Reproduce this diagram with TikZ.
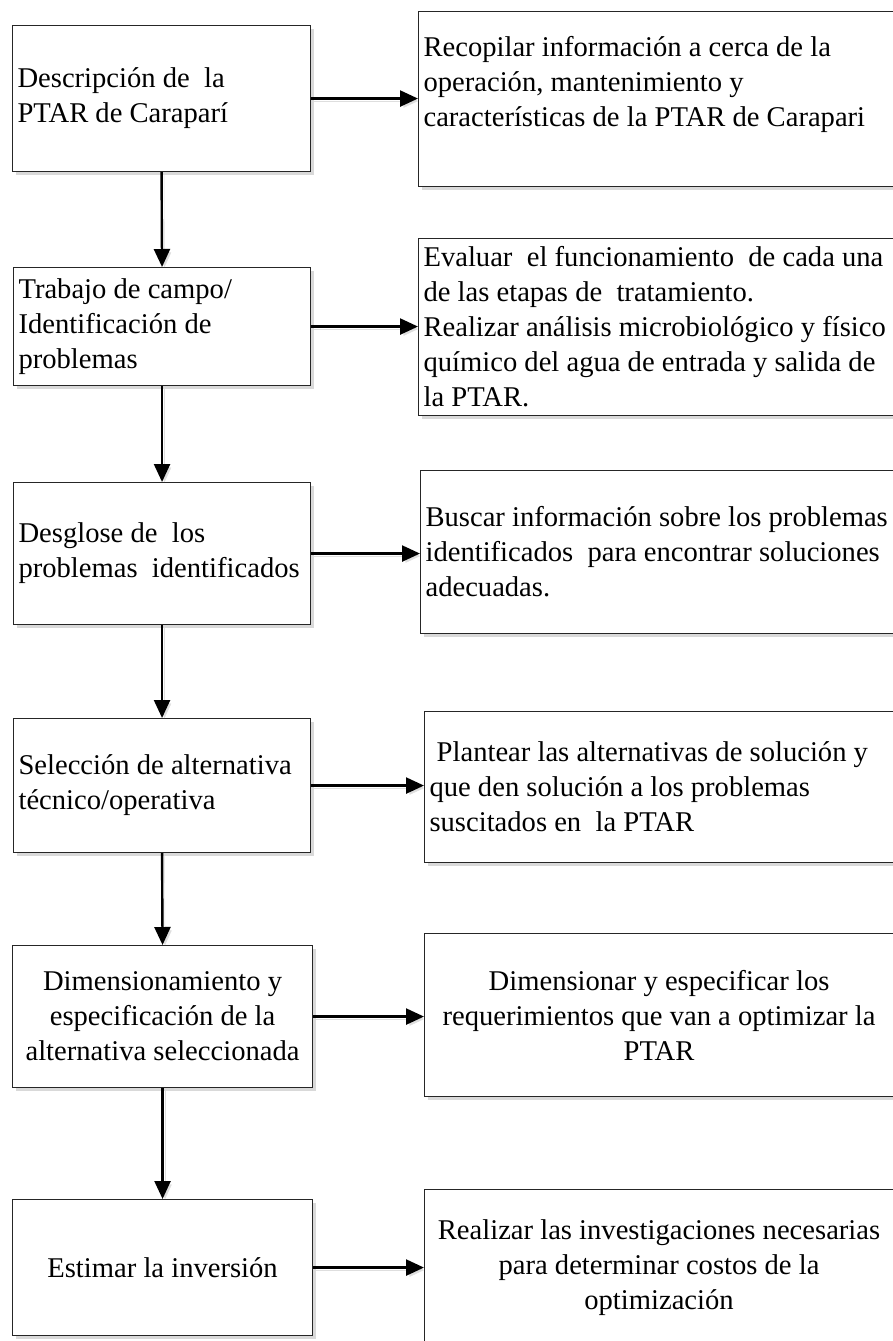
\documentclass[tikz,border=0pt]{standalone}
\usepackage{fontspec}
\setmainfont{Liberation Serif}
\usetikzlibrary{arrows.meta,shadows}
\tikzset{
  box/.style={draw=black!85, line width=1.1pt, fill=white, inner xsep=5pt, inner ysep=0pt,
    anchor=north west,
    font=\fontsize{28.6}{35}\selectfont,
    execute at begin node={\spaceskip=7.15pt\relax\xspaceskip=7.15pt\relax\hyphenpenalty=10000\relax\exhyphenpenalty=10000\relax},
    drop shadow={shadow xshift=3pt, shadow yshift=-3pt, fill=black!25, opacity=0.6}},
  arr/.style={line width=2.4pt, -{Triangle[length=18pt,width=16pt]},
    preaction={draw=black!13, transform canvas={shift={(2.5pt,-2.5pt)}}}}
}
\begin{document}
\begin{tikzpicture}[x=1pt,y=-1pt]
\useasboundingbox (0,0) rectangle (892,1341);
% left column
\node[box, minimum width=298pt, minimum height=146pt, text width=288pt, align=left] (L1) at (12,25)
  {Descripción de\ \ la\\PTAR de Caraparí};
\node[box, minimum width=297pt, minimum height=118pt, text width=287pt, align=left] (L2) at (13,267)
  {Trabajo de campo/\\Identificación de\\problemas};
\node[box, minimum width=297pt, minimum height=142pt, text width=287pt, align=left] (L3) at (13,482)
  {Desglose de\ \ los\\problemas\ \ identificados};
\node[box, minimum width=297pt, minimum height=134pt, text width=287pt, align=left] (L4) at (13,718)
  {Selección de alternativa\\técnico/operativa};
\node[box, minimum width=300pt, minimum height=142pt, text width=290pt, align=center] (L5) at (12,945)
  {Dimensionamiento y\\especificación de la\\alternativa seleccionada};
\node[box, minimum width=300pt, minimum height=136pt, text width=290pt, align=center] (L6) at (12,1199)
  {Estimar la inversión};
% right column
\node[box, minimum width=475pt, minimum height=175pt, text width=465pt, align=left] (R1) at (418,11)
  {Recopilar información a cerca de la\\operación, mantenimiento y\\características de la PTAR de Carapari\\\mbox{}};
\node[box, minimum width=475pt, minimum height=177pt, text width=472pt, align=left] (R2) at (418,238)
  {Evaluar\ \ el funcionamiento\ \ de cada una\\de las etapas de\ \ tratamiento.\\Realizar análisis microbiológico y físico\\químico del agua de entrada y salida de\\la PTAR.};
\node[box, minimum width=473pt, minimum height=163pt, text width=470pt, align=left] (R3) at (420,470)
  {Buscar información sobre los problemas\\identificados\ \ para encontrar soluciones\\adecuadas.};
\node[box, minimum width=469pt, minimum height=151pt, text width=462pt, align=left] (R4) at (424,711)
  {\ Plantear las alternativas de solución y\\que den solución a los problemas\\suscitados en\ \ la PTAR};
\node[box, minimum width=469pt, minimum height=163pt, text width=459pt, align=center] (R5) at (424,933)
  {Dimensionar y especificar los\\requerimientos que van a optimizar la\\PTAR};
\node[box, minimum width=469pt, minimum height=156pt, text width=459pt, align=center] (R6) at (424,1189)
  {Realizar las investigaciones necesarias\\para determinar costos de la\\optimización};
% vertical arrows
\draw[arr] (L1.south) -- (L2.north);
\draw[arr] (L2.south) -- (L3.north);
\draw[arr] (L3.south) -- (L4.north);
\draw[arr] (L4.south) -- (L5.north);
\draw[arr] (L5.south) -- (L6.north);
% horizontal arrows
\draw[arr] (L1.east) -- (R1.west |- L1.east);
\draw[arr] (L2.east) -- (R2.west |- L2.east);
\draw[arr] (L3.east) -- (R3.west |- L3.east);
\draw[arr] (L4.east) -- (R4.west |- L4.east);
\draw[arr] (L5.east) -- (R5.west |- L5.east);
\draw[arr] (L6.east) -- (R6.west |- L6.east);
\end{tikzpicture}
\end{document}
